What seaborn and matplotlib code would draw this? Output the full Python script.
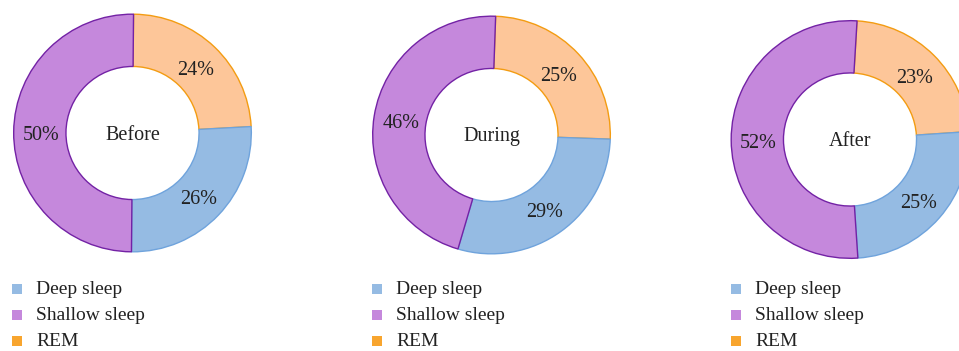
import matplotlib
matplotlib.use("Agg")
import matplotlib.pyplot as plt
from matplotlib.patches import Rectangle
from matplotlib.transforms import ScaledTranslation
import seaborn as sns

# Sleep stage shares (%) for each period, listed clockwise from the top
stages = ["REM", "Deep sleep", "Shallow sleep"]
periods = ["Before", "During", "After"]
rem = [24, 25, 23]
deep = [26, 29, 25]
shallow = [50, 46, 52]

legend_order = ["Deep sleep", "Shallow sleep", "REM"]

sns.set_theme(style="white")
plt.rcParams["font.family"] = ["Liberation Serif", "DejaVu Serif"]

fill = sns.color_palette(["#fdc699", "#95bbe3", "#c588dc"])
edge = ["#f39c12", "#6fa3dc", "#7322a5"]
legend_colors = {"Deep sleep": "#95bbe3", "Shallow sleep": "#c588dc", "REM": "#f8a52e"}

W, H = 959, 351
fig = plt.figure(figsize=(W / 100, H / 100), dpi=100)
fig.patch.set_facecolor("white")

# donut centres and outer radius in pixels (x from left, y from top)
centres = [(132.5, 133), (491.5, 135), (850, 139.5)]
start_angles = [89.5, 88, 86.6]
R = 120
legend_x = [12, 372, 731]
row_y = [288, 314.5, 340.5]

# nudge text down so glyphs sit visually centred
down = ScaledTranslation(0, -0.035, fig.dpi_scale_trans)
down_small = ScaledTranslation(0, -0.02, fig.dpi_scale_trans)

for i, period in enumerate(periods):
    cx, cy = centres[i]
    ax = fig.add_axes([(cx - R) / W, (H - (cy + R)) / H, 2 * R / W, 2 * R / H])
    values = [rem[i], deep[i], shallow[i]]
    wedges, _, autotexts = ax.pie(
        values,
        colors=fill,
        startangle=start_angles[i],
        counterclock=False,
        radius=1.0,
        autopct=lambda p: f"{round(p)}%",
        pctdistance=0.77,
        wedgeprops=dict(width=0.44, linewidth=1.0),
        textprops=dict(fontsize=14.5, color="#222222"),
    )
    for w, ec in zip(wedges, edge):
        w.set_edgecolor(ec)
    for t in autotexts:
        t.set_transform(t.get_transform() + down)
    ax.text(0, 0, period, ha="center", va="center", fontsize=14.5,
            color="#222222", transform=ax.transData + down_small)
    ax.set_xlim(-1.01, 1.01)
    ax.set_ylim(-1.01, 1.01)
    ax.set_aspect("equal")
    ax.axis("off")

    # legend rows
    lx = legend_x[i]
    for name, y in zip(legend_order, row_y):
        fig.add_artist(Rectangle((lx / W, (H - y - 5.5) / H), 10 / W, 10 / H,
                                 transform=fig.transFigure,
                                 facecolor=legend_colors[name], edgecolor="none"))
        fig.text((lx + 24) / W, (H - y - 1.5) / H, name, ha="left", va="center",
                 fontsize=14, color="#222222")

fig.savefig("out.png", dpi=100, facecolor="white")
